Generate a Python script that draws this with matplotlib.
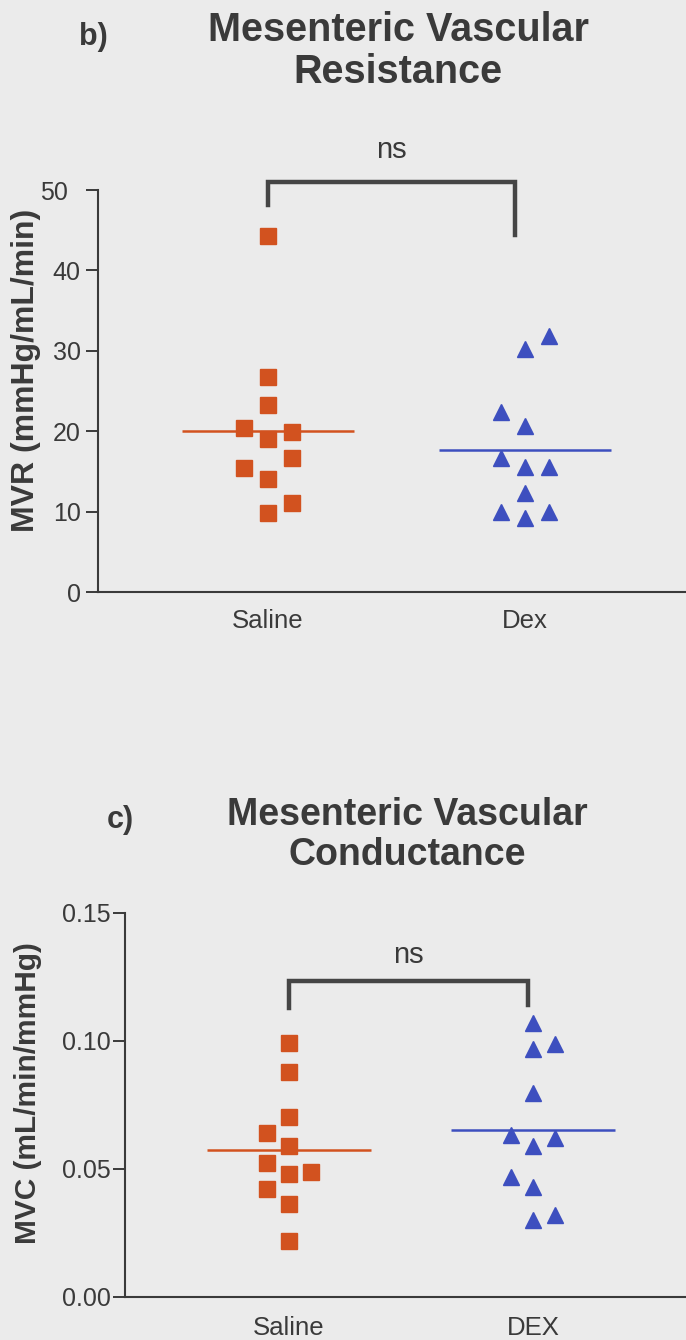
import numpy as np
import matplotlib.pyplot as plt
from matplotlib.transforms import ScaledTranslation

plt.rcParams['font.family'] = ['Liberation Sans', 'DejaVu Sans']

# --- data ---
groups_mvr = ['Saline', 'Dex']
groups_mvc = ['Saline', 'DEX']

# mesenteric vascular resistance, mmHg/mL/min
mvr_saline = [44.3, 26.7, 23.3, 20.4, 19.9, 19.0, 16.7, 15.4, 14.1, 11.1, 9.8]
mvr_dex = [31.8, 30.2, 22.4, 20.6, 16.7, 15.6, 15.6, 12.3, 10.0, 9.2, 10.0]
# column of each point in the scatter (-1 left, 0 centre, 1 right)
mvr_saline_col = [0, 0, 0, -1, 1, 0, 1, -1, 0, 1, 0]
mvr_dex_col = [1, 0, -1, 0, -1, 0, 1, 0, -1, 0, 1]

# mesenteric vascular conductance, mL/min/mmHg
mvc_saline = [0.0992, 0.0879, 0.0703, 0.0641, 0.0590, 0.0523, 0.0480, 0.0488, 0.0422, 0.0363, 0.0219]
mvc_dex = [0.1070, 0.0969, 0.0988, 0.0797, 0.0633, 0.0621, 0.0590, 0.0469, 0.0430, 0.0301, 0.0320]
mvc_saline_col = [0, 0, 0, -1, 0, -1, 0, 1, -1, 0, 0]
mvc_dex_col = [0, 0, 1, 0, -1, 1, 0, -1, 0, 0, 1]

BG = '#ebebeb'
INK = '#3a3a3a'
ORANGE = '#d2521f'
BLUE = '#3d4fbf'

W, H = 686, 1340
fig = plt.figure(figsize=(W / 100, H / 100), dpi=100, facecolor=BG)


def px_axes(x0, y0, x1, y1):
    # axes from pixel box (top-left origin)
    return fig.add_axes([x0 / W, 1 - y1 / H, (x1 - x0) / W, (y1 - y0) / H])


def fig_text(x, y, s, **kw):
    fig.text(x / W, 1 - y / H, s, color=INK, ha='center', va='center', **kw)


def scatter_panel(ax, vals_a, cols_a, vals_b, cols_b, step, half):
    for i, (vals, cols, mk, c, ms) in enumerate([
            (vals_a, cols_a, 's', ORANGE, 11.5),
            (vals_b, cols_b, '^', BLUE, 11)]):
        xs = i + step * np.array(cols)
        ax.plot(xs, vals, ls='none', marker=mk, ms=ms, color=c, mec=c, clip_on=False, zorder=3)
        m = np.mean(vals)
        ax.plot([i - half, i + half], [m, m], color=c, lw=1.8, zorder=2, solid_capstyle='butt')


def style_axes(ax, labels, xpad, ypad):
    ax.set_facecolor(BG)
    for s in ['top', 'right']:
        ax.spines[s].set_visible(False)
    for s in ['left', 'bottom']:
        ax.spines[s].set_color(INK)
        ax.spines[s].set_linewidth(1.5)
    ax.set_xticks([0, 1])
    ax.set_xticklabels(labels)
    ax.tick_params(axis='x', length=0, pad=xpad, labelsize=18.5, labelcolor=INK)
    ax.tick_params(axis='y', length=8.5, width=1.4, color=INK, pad=ypad, labelsize=18, labelcolor=INK)


def bracket(ax, x0, x1, ytop, yl, yr, text, ytext):
    ax.plot([x0, x0, x1, x1], [yl, ytop, ytop, yr], color='#454545', lw=3.2,
            solid_joinstyle='miter', clip_on=False, zorder=4)
    ax.text((x0 + x1) / 2, ytext, text, ha='center', va='center', fontsize=21, color=INK)


# panel b: resistance
ax1 = px_axes(98, 190, 686, 592)
ax1.set_xlim(-0.661, 1.626)
ax1.set_ylim(0, 50)
ax1.set_yticks([0, 10, 20, 30, 40, 50])
style_axes(ax1, groups_mvr, 12, 4)
scatter_panel(ax1, mvr_saline, mvr_saline_col, mvr_dex, mvr_dex_col, 0.093, 0.335)
bracket(ax1, 0.0, 0.96, 51.0, 48.1, 44.4, 'ns', 55.0)
ax1.set_ylabel('MVR (mmHg/mL/min)', fontsize=23, fontweight='bold', color=INK)
ax1.yaxis.set_label_coords(-0.097, 0.552)
# the top label sits a little further out, beside the corner of the axis
top_lbl = ax1.yaxis.get_major_ticks()[-1].label1
top_lbl.set_transform(top_lbl.get_transform() + ScaledTranslation(-0.13, 0, fig.dpi_scale_trans))

fig_text(93, 37, 'b)', fontsize=22, fontweight='bold')
fig_text(398, 30, 'Mesenteric Vascular', fontsize=28.5, fontweight='bold')
fig_text(398, 72, 'Resistance', fontsize=28.5, fontweight='bold')

# panel c: conductance
ax2 = px_axes(125, 913, 686, 1297)
ax2.set_xlim(-0.672, 1.627)
ax2.set_ylim(0, 0.15)
ax2.set_yticks([0, 0.05, 0.10, 0.15])
ax2.set_yticklabels(['0.00', '0.05', '0.10', '0.15'])
style_axes(ax2, groups_mvc, 14, 2)
scatter_panel(ax2, mvc_saline, mvc_saline_col, mvc_dex, mvc_dex_col, 0.092, 0.336)
bracket(ax2, 0.0, 0.98, 0.1234, 0.1129, 0.1141, 'ns', 0.1336)
ax2.set_ylabel('MVC (mL/min/mmHg)', fontsize=21.5, fontweight='bold', color=INK)
ax2.yaxis.set_label_coords(-0.148, 0.531)

fig_text(120, 820, 'c)', fontsize=22, fontweight='bold')
fig_text(407, 815, 'Mesenteric Vascular', fontsize=27, fontweight='bold')
fig_text(407, 855, 'Conductance', fontsize=27, fontweight='bold')

fig.savefig('out.png', dpi=100, facecolor=BG)
